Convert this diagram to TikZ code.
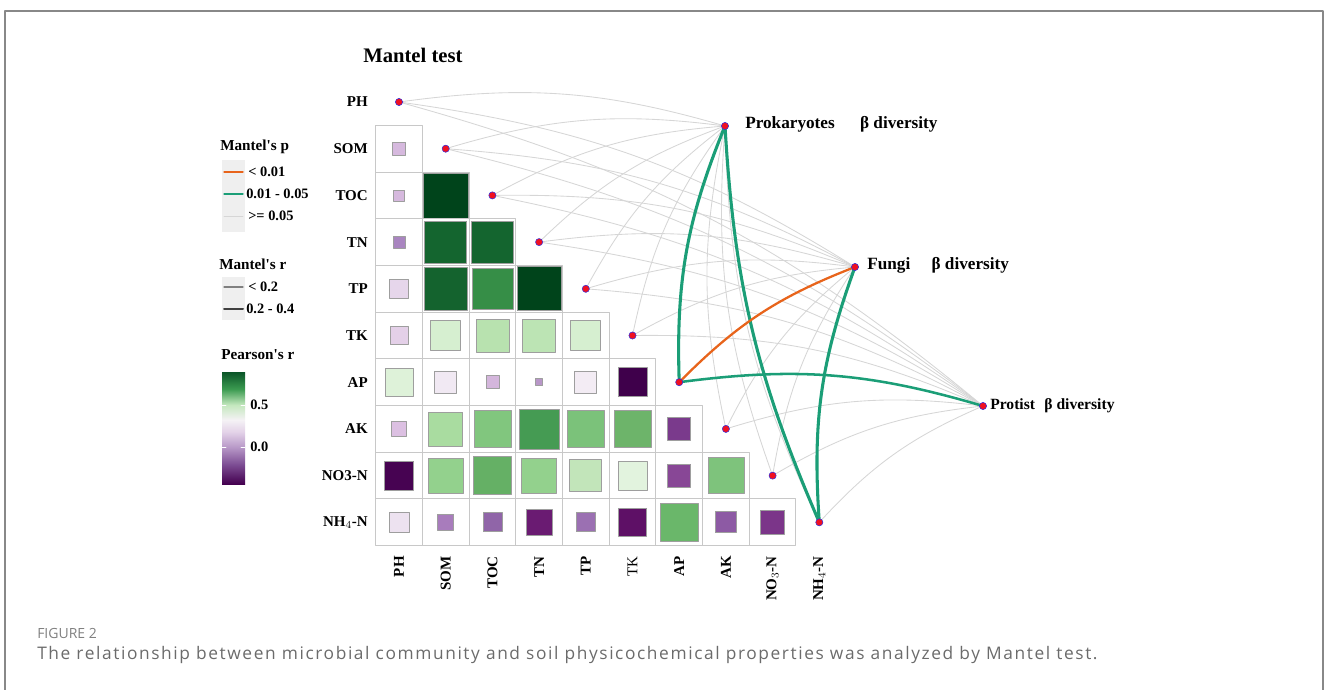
\documentclass[tikz,border=0pt]{standalone}
\usepackage{fontspec}
\setmainfont{Liberation Serif}
\newfontfamily\capfont[LetterSpace=9.2]{Open Sans}
\newfontfamily\figfont{Open Sans}
\definecolor{qqzztt}{HTML}{1B9E77}
\definecolor{ffttqq}{HTML}{E8641B}
\definecolor{ddddddd}{HTML}{D6D6D6}
\definecolor{wwwwww}{HTML}{888888}
\definecolor{cccccc}{HTML}{C8C8C8}
\definecolor{efefef}{HTML}{EFEFEF}
\definecolor{ttttff}{HTML}{3030E0}
\definecolor{ffqqqq}{HTML}{F01020}
\definecolor{pb0}{HTML}{44004F}
\definecolor{pb1}{HTML}{7E4F95}
\definecolor{pb2}{HTML}{B899C8}
\definecolor{pb3}{HTML}{E3D2E8}
\definecolor{pb4}{HTML}{F5F2F5}
\definecolor{pb5}{HTML}{C4E8BE}
\definecolor{pb6}{HTML}{3B9A50}
\definecolor{pb7}{HTML}{0A5528}
\pgfdeclareverticalshading{pearson}{100bp}{color(0bp)=(pb0); color(25bp)=(pb0); color(33.9bp)=(pb1); color(41.5bp)=(pb2); color(48.2bp)=(pb3); color(53.6bp)=(pb4); color(60.3bp)=(pb5); color(67.4bp)=(pb6); color(75bp)=(pb7); color(100bp)=(pb7)}
\tikzset{
  rowlab/.style={anchor=east,inner sep=0pt,font=\fontsize{11.25}{13}\selectfont\bfseries},
  collab/.style={anchor=east,rotate=90,inner sep=0pt,font=\fontsize{11.25}{13}\selectfont\bfseries},
  dot/.style={circle,fill=ffqqqq,draw=ttttff,line width=0.4pt,inner sep=0pt,minimum size=5.4pt},
  tgtlab/.style={anchor=west,inner sep=0pt,font=\fontsize{12.9}{15}\selectfont\bfseries},
  leglab/.style={anchor=west,inner sep=0pt,font=\fontsize{10.8}{13}\selectfont\bfseries},
  legtitle/.style={anchor=west,inner sep=0pt,font=\fontsize{11.4}{13}\selectfont\bfseries},
  cellbox/.style={draw=cccccc,line width=0.75pt},
  cellsq/.style={draw=black!38,line width=0.5pt},
  nsedge/.style={draw=ddddddd,line width=0.65pt},
  sigedge/.style={draw=qqzztt},
  stredge/.style={draw=ffttqq}
}
\begin{document}
\begin{tikzpicture}[line cap=round,line join=round,x=0.75pt,y=0.75pt]
\useasboundingbox (0,0) rectangle (1328,-689);
\draw [wwwwww,line width=1.1pt] (5,-700) -- (5,-11) -- (1323,-11) -- (1323,-700);
\node [anchor=west,inner sep=0pt,font=\fontsize{15.5}{18}\selectfont\bfseries] (title) at (363,-55) {Mantel test};
\foreach \c/\r/\s/\h in {0/1/13/D6B9DE,
  0/2/11/D6B9DE, 1/2/45/00441B,
  0/3/12/A985C0, 1/3/42/14652F, 2/3/42/14652F,
  0/4/19/E6D6EB, 1/4/43/14632E, 2/4/41/368E47, 3/4/44/00441B,
  0/5/18/E4D0E8, 1/5/30/D6EFD0, 2/5/33/B8E2AF, 3/5/33/BCE4B4, 4/5/30/D6EFD0,
  0/6/28/DEF2D9, 1/6/22/F1E9F3, 2/6/13/D4B6DC, 3/6/7/B896C8, 4/6/22/F3ECF4, 5/6/29/3F004B,
  0/7/15/DCC0E2, 1/7/34/A9DCA0, 2/7/37/81C67E, 3/7/40/459B53, 4/7/37/7BC27A, 5/7/37/6DB46A, 6/7/23/7A3A8C,
  0/8/29/470352, 1/8/35/93D18D, 2/8/38/65B065, 3/8/35/93D18D, 4/8/32/C2E5BA, 5/8/29/E2F3DE, 6/8/23/884796, 7/8/36/7EC37C,
  0/9/20/EDE2F0, 1/9/16/A87CBC, 2/9/19/9065A8, 3/9/26/6A1B72, 4/9/19/9B70B2, 5/9/28/5E1066, 6/9/38/6AB76A, 7/9/21/8D5AA4, 8/9/24/7B3589}{
  \definecolor{cellc}{HTML}{\h}
  \draw [cellbox] (399+46.7*\c-23.35,-102-46.7*\r-23.35) rectangle ++(46.7,46.7);
  \draw [cellsq,fill=cellc] (399+46.7*\c-\s/2,-102-46.7*\r-\s/2) rectangle ++(\s,\s);
}
\foreach \n [count=\i from 0] in {PH,SOM,TOC,TN,TP,TK,AP,AK,NO3-N,NH$_4$-N}
  \node [rowlab] (r\i) at (368,-102-46.7*\i) {\n};
\foreach \n [count=\i from 0] in {PH,SOM,TOC,TN,TP,{\mdseries TK},AP,AK,NO$_3$-N,NH$_4$-N}
  \node [collab] (c\i) at (399+46.7*\i,-556) {\n};
\foreach \i in {0,...,9}
  \coordinate (p\i) at (399+46.7*\i,-102-46.7*\i);
\coordinate (pk) at (725,-126);
\coordinate (fg) at (855,-267);
\coordinate (pt) at (983,-406);
\foreach \t in {pk,fg,pt}
  \foreach \i in {0,...,9}
    \draw [nsedge] (p\i) to[bend left=12] (\t);
\draw [sigedge,line width=2.3pt] (p6) to[bend left=12] (pk);
\draw [sigedge,line width=2.3pt] (p9) to[bend left=10] (pk);
\draw [sigedge,line width=2.3pt] (p9) to[bend left=12] (fg);
\draw [stredge,line width=1.7pt] (p6) to[bend left=12] (fg);
\draw [sigedge,line width=1.9pt] (p6) to[bend left=12] (pt);
\foreach \i in {0,...,9}
  \node [dot] (d\i) at (p\i) {};
\node [dot] (prok) at (pk) {};
\node [dot] (fungi) at (fg) {};
\node [dot] (prot) at (pt) {};
\node [tgtlab] (prokl) at (745,-124) {Prokaryotes\hspace{19pt}β diversity};
\node [tgtlab] (fungil) at (867,-265) {Fungi\hspace{16pt}β diversity};
\node [tgtlab,font=\fontsize{11.7}{14}\selectfont\bfseries] (protl) at (990,-406) {Protist\hspace{7pt}β diversity};
\node [legtitle] (mp) at (220,-147) {Mantel\textquotesingle s p};
\fill [efefef] (222,-160) rectangle (245,-232);
\draw [ffttqq,line width=1pt] (224,-172) -- (243,-172);
\draw [qqzztt,line width=1pt] (224,-194) -- (243,-194);
\draw [ddddddd,line width=0.6pt] (224,-216) -- (243,-216);
\node [leglab] (mp1) at (248,-172) {< 0.01};
\node [leglab] (mp2) at (246,-194) {0.01 - 0.05};
\node [leglab] (mp3) at (248,-216) {>= 0.05};
\node [legtitle] (mr) at (219,-264) {Mantel\textquotesingle s r};
\fill [efefef] (222,-277) rectangle (245,-320);
\draw [black!50,line width=0.8pt] (224,-287) -- (243,-287);
\draw [black!75,line width=1.5pt] (224,-309) -- (243,-309);
\node [leglab] (mr1) at (248,-287) {< 0.2};
\node [leglab] (mr2) at (246,-309) {0.2 - 0.4};
\node [legtitle] (pr) at (221,-355) {Pearson\textquotesingle s r};
\shade [shading=pearson] (222,-484) rectangle (245,-372);
\draw [white,line width=0.6pt] (222,-405) -- (226,-405) (241,-405) -- (245,-405);
\draw [white,line width=0.6pt] (222,-447) -- (226,-447) (241,-447) -- (245,-447);
\node [leglab] (pr1) at (250,-405) {0.5};
\node [leglab] (pr2) at (250,-447) {0.0};
\node [anchor=west,inner sep=0pt,font=\figfont\fontsize{10.5}{12}\selectfont,text=black!50] (fig) at (37,-633) {FIGURE 2};
\node [anchor=west,inner sep=0pt,font=\capfont\fontsize{13}{15}\selectfont,text=black!58] (cap) at (37,-655) {The relationship between microbial community and soil physicochemical properties was analyzed by Mantel test.};
\end{tikzpicture}
\end{document}
